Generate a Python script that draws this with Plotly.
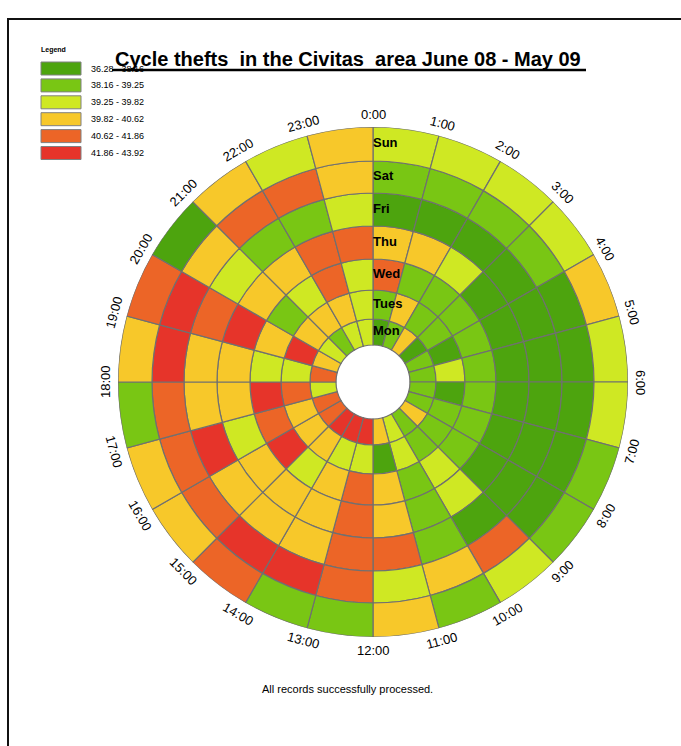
import math
import plotly.graph_objects as go

W, H = 681, 746

# ring order from the centre outwards
days = ["Mon", "Tues", "Wed", "Thu", "Fri", "Sat", "Sun"]
hours = ["%d:00" % h for h in range(24)]

class_labels = ["36.28 - 38.16", "38.16 - 39.25", "39.25 - 39.82",
                "39.82 - 40.62", "40.62 - 41.86", "41.86 - 43.92"]
class_colors = ["#4da40e", "#79c614", "#cfe823", "#f7c82a", "#ec6527", "#e6342a"]

# class (1..6) of each hour cell, hours 0..23
mon  = [1, 2, 4, 1, 2, 2, 2, 2, 4, 2, 3, 4, 6, 6, 6, 5, 5, 3, 5, 4, 3, 2, 3, 3]
tues = [2, 4, 2, 2, 1, 3, 1, 2, 2, 2, 3, 1, 3, 3, 4, 4, 4, 5, 3, 6, 4, 4, 4, 3]
wed  = [5, 2, 2, 2, 2, 2, 2, 2, 2, 3, 2, 4, 5, 4, 3, 6, 5, 6, 3, 4, 2, 3, 5, 3]
thu  = [4, 4, 3, 1, 1, 1, 1, 1, 1, 3, 2, 4, 5, 4, 4, 4, 3, 4, 4, 6, 4, 4, 5, 5]
fri  = [1, 1, 1, 1, 1, 1, 1, 1, 1, 1, 2, 5, 5, 4, 4, 4, 6, 4, 4, 5, 3, 2, 2, 3]
sat  = [2, 2, 2, 2, 1, 1, 1, 1, 1, 5, 4, 3, 5, 6, 6, 5, 5, 5, 6, 6, 4, 5, 5, 4]
sun  = [3, 3, 3, 3, 4, 3, 3, 2, 2, 3, 2, 4, 2, 2, 5, 4, 4, 2, 4, 5, 1, 4, 3, 4]
grid = [mon, tues, wed, thu, fri, sat, sun]

# ring edges on the radial axis (the inner rings are a bit thinner)
ring_edges = [37, 63, 92, 123, 156, 189, 221, 255]

cx, cy, R = 373, 382, 255
FONT = "Liberation Sans, Arial"


def px(x):
    return x / W


def py(y):
    return 1 - y / H


fig = go.Figure()

for i, day in enumerate(days):
    inner, outer = ring_edges[i], ring_edges[i + 1]
    fig.add_trace(go.Barpolar(
        theta=[15 * h + 7.5 for h in range(24)],
        r=[outer - inner] * 24,
        base=[inner] * 24,
        width=[15] * 24,
        marker=dict(color=[class_colors[c - 1] for c in grid[i]],
                    line=dict(color="#707070", width=1.2)),
        name=day, hoverinfo="skip", showlegend=False,
    ))

# day names along the 0:00 line
fig.add_trace(go.Scatterpolar(
    r=[(ring_edges[i] + ring_edges[i + 1]) / 2 for i in range(len(days))],
    theta=[0] * len(days),
    mode="text",
    text=["<b>%s</b>" % d for d in days],
    textposition="middle right",
    textfont=dict(family=FONT, size=13, color="black"),
    hoverinfo="skip", showlegend=False,
))

annotations = []
# hour labels, turned to follow the circle
lab_r = 268
for h, lab in enumerate(hours):
    th = 15 * h
    a = math.radians(th)
    if th <= 90:
        ang = th
    elif th < 270:
        ang = th - 180
    else:
        ang = th - 360
    annotations.append(dict(
        x=px(cx + lab_r * math.sin(a)), y=py(cy - lab_r * math.cos(a)),
        xref="paper", yref="paper", text=lab, showarrow=False, textangle=ang,
        xanchor="center", yanchor="middle",
        font=dict(family=FONT, size=13, color="black")))

# title
annotations.append(dict(
    x=px(348), y=py(59), xref="paper", yref="paper", showarrow=False,
    xanchor="center", yanchor="middle",
    text="<b>Cycle thefts  in the Civitas  area June 08 - May 09</b>",
    font=dict(family=FONT, size=20, color="black")))

annotations.append(dict(
    x=px(347), y=py(689), xref="paper", yref="paper", showarrow=False,
    xanchor="center", yanchor="middle",
    text="All records successfully processed.",
    font=dict(family=FONT, size=11, color="black")))

# legend box
annotations.append(dict(
    x=px(39), y=py(50), xref="paper", yref="paper", showarrow=False,
    xanchor="left", yanchor="middle", text="<b>Legend</b>",
    font=dict(family=FONT, size=7, color="black")))

shapes = []
for i, (lab, col) in enumerate(zip(class_labels, class_colors)):
    top = 62 + 16.9 * i
    shapes.append(dict(type="rect", xref="paper", yref="paper",
                       x0=px(41), x1=px(81), y0=py(top + 13), y1=py(top),
                       fillcolor=col, line=dict(color="#808080", width=1)))
    annotations.append(dict(
        x=px(89), y=py(top + 6.5), xref="paper", yref="paper", showarrow=False,
        xanchor="left", yanchor="middle", text=lab,
        font=dict(family=FONT, size=9, color="black")))

# title underline and page frame
shapes.append(dict(type="line", xref="paper", yref="paper",
                   x0=px(112), x1=px(586), y0=py(70), y1=py(70),
                   line=dict(color="black", width=2.5)))
shapes.append(dict(type="rect", xref="paper", yref="paper",
                   x0=px(8), x1=px(720), y0=py(800), y1=py(19),
                   line=dict(color="#111111", width=2)))

fig.update_layout(
    width=W, height=H,
    margin=dict(l=0, r=0, t=0, b=0),
    paper_bgcolor="white",
    polar=dict(
        domain=dict(x=[px(cx - R), px(cx + R)], y=[py(cy + R), py(cy - R)]),
        bgcolor="white",
        hole=0,
        radialaxis=dict(range=[0, R], visible=False),
        angularaxis=dict(direction="clockwise", rotation=90,
                         showticklabels=False, ticks="", showgrid=False,
                         showline=False),
        bargap=0,
    ),
    annotations=annotations,
    shapes=shapes,
)

# drop the browser's default page margin so the figure sits at the corner
fig.write_html("out.html", config={"displayModeBar": False},
               post_script="document.body.style.margin='0px';")
